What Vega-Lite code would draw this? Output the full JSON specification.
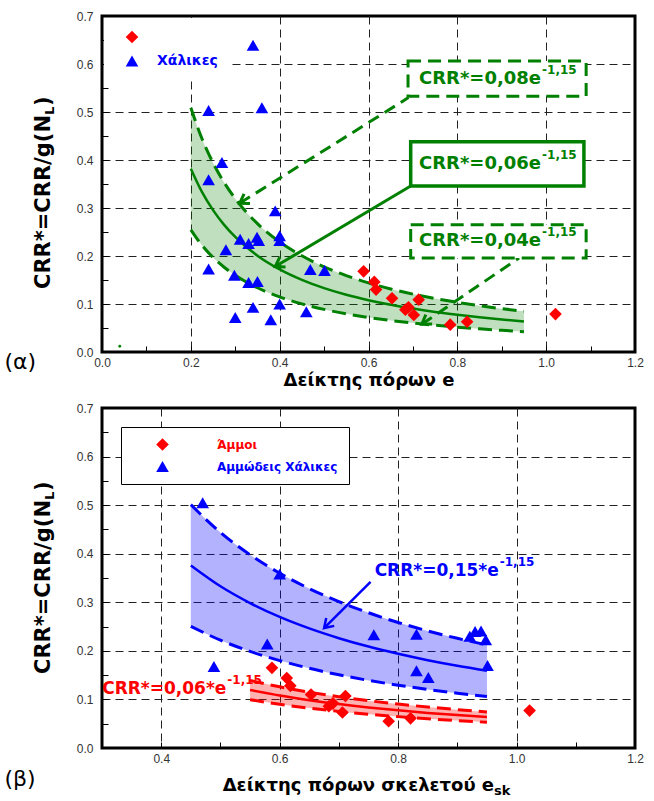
{
"$schema": "https://vega.github.io/schema/vega-lite/v6.json",
"background": "white",
"padding": {"left": 2, "top": 8, "right": 4, "bottom": 2},
"spacing": 9,
"config": {
  "view": {"stroke": "black", "strokeWidth": 3},
  "font": "Liberation Sans",
  "axis": {"domain": false, "tickColor": "black", "tickWidth": 1, "tickSize": -6, "labelFont": "Liberation Sans", "labelFontSize": 12, "labelColor": "#333333", "gridColor": "#222222", "gridDash": [8, 5], "gridWidth": 1, "labelOverlap": false, "labelFlush": false}
},
"datasets": {
  "topBand": [
    {"e": 0.2, "crr": 0.382, "up": 0.509, "lo": 0.2546},
    {"e": 0.225, "crr": 0.3335, "up": 0.4447, "lo": 0.2224},
    {"e": 0.25, "crr": 0.2955, "up": 0.394, "lo": 0.197},
    {"e": 0.275, "crr": 0.2648, "up": 0.3531, "lo": 0.1766},
    {"e": 0.3, "crr": 0.2396, "up": 0.3194, "lo": 0.1597},
    {"e": 0.35, "crr": 0.2006, "up": 0.2675, "lo": 0.1338},
    {"e": 0.4, "crr": 0.1721, "up": 0.2294, "lo": 0.1147},
    {"e": 0.45, "crr": 0.1503, "up": 0.2004, "lo": 0.1002},
    {"e": 0.5, "crr": 0.1331, "up": 0.1775, "lo": 0.0888},
    {"e": 0.55, "crr": 0.1193, "up": 0.1591, "lo": 0.0796},
    {"e": 0.6, "crr": 0.108, "up": 0.144, "lo": 0.072},
    {"e": 0.65, "crr": 0.0985, "up": 0.1313, "lo": 0.0656},
    {"e": 0.7, "crr": 0.0904, "up": 0.1206, "lo": 0.0603},
    {"e": 0.75, "crr": 0.0835, "up": 0.1114, "lo": 0.0557},
    {"e": 0.8, "crr": 0.0776, "up": 0.1034, "lo": 0.0517},
    {"e": 0.85, "crr": 0.0723, "up": 0.0964, "lo": 0.0482},
    {"e": 0.9, "crr": 0.0677, "up": 0.0903, "lo": 0.0452},
    {"e": 0.95, "crr": 0.0636, "up": 0.0849, "lo": 0.0424}
  ],
  "blueBand": [
    {"e": 0.45, "crr": 0.3758, "up": 0.501, "lo": 0.2505},
    {"e": 0.5, "crr": 0.3329, "up": 0.4438, "lo": 0.2219},
    {"e": 0.55, "crr": 0.2984, "up": 0.3978, "lo": 0.1989},
    {"e": 0.6, "crr": 0.2699, "up": 0.3599, "lo": 0.18},
    {"e": 0.65, "crr": 0.2462, "up": 0.3282, "lo": 0.1641},
    {"e": 0.7, "crr": 0.2261, "up": 0.3014, "lo": 0.1507},
    {"e": 0.75, "crr": 0.2088, "up": 0.2784, "lo": 0.1392},
    {"e": 0.8, "crr": 0.1939, "up": 0.2585, "lo": 0.1293},
    {"e": 0.85, "crr": 0.1808, "up": 0.2411, "lo": 0.1206},
    {"e": 0.9, "crr": 0.1693, "up": 0.2258, "lo": 0.1129},
    {"e": 0.95, "crr": 0.1591, "up": 0.2122, "lo": 0.1061}
  ],
  "redBand": [
    {"e": 0.55, "crr": 0.1193, "up": 0.1392, "lo": 0.0995},
    {"e": 0.6, "crr": 0.108, "up": 0.126, "lo": 0.09},
    {"e": 0.65, "crr": 0.0985, "up": 0.1149, "lo": 0.0821},
    {"e": 0.7, "crr": 0.0904, "up": 0.1055, "lo": 0.0754},
    {"e": 0.75, "crr": 0.0835, "up": 0.0974, "lo": 0.0696},
    {"e": 0.8, "crr": 0.0776, "up": 0.0905, "lo": 0.0646},
    {"e": 0.85, "crr": 0.0723, "up": 0.0844, "lo": 0.0603},
    {"e": 0.9, "crr": 0.0677, "up": 0.079, "lo": 0.0564},
    {"e": 0.95, "crr": 0.0636, "up": 0.0743, "lo": 0.053}
  ],
  "topPts": [
    {"e": 0.589, "crr": 0.168, "soil": "Άμμοι"},
    {"e": 0.613, "crr": 0.146, "soil": "Άμμοι"},
    {"e": 0.617, "crr": 0.13, "soil": "Άμμοι"},
    {"e": 0.653, "crr": 0.112, "soil": "Άμμοι"},
    {"e": 0.683, "crr": 0.088, "soil": "Άμμοι"},
    {"e": 0.69, "crr": 0.093, "soil": "Άμμοι"},
    {"e": 0.702, "crr": 0.077, "soil": "Άμμοι"},
    {"e": 0.713, "crr": 0.109, "soil": "Άμμοι"},
    {"e": 0.784, "crr": 0.057, "soil": "Άμμοι"},
    {"e": 0.822, "crr": 0.063, "soil": "Άμμοι"},
    {"e": 1.021, "crr": 0.079, "soil": "Άμμοι"},
    {"e": 0.34, "crr": 0.639, "soil": "Χάλικες"},
    {"e": 0.24, "crr": 0.503, "soil": "Χάλικες"},
    {"e": 0.36, "crr": 0.509, "soil": "Χάλικες"},
    {"e": 0.27, "crr": 0.395, "soil": "Χάλικες"},
    {"e": 0.24, "crr": 0.359, "soil": "Χάλικες"},
    {"e": 0.39, "crr": 0.294, "soil": "Χάλικες"},
    {"e": 0.311, "crr": 0.235, "soil": "Χάλικες"},
    {"e": 0.33, "crr": 0.226, "soil": "Χάλικες"},
    {"e": 0.349, "crr": 0.239, "soil": "Χάλικες"},
    {"e": 0.353, "crr": 0.232, "soil": "Χάλικες"},
    {"e": 0.4, "crr": 0.242, "soil": "Χάλικες"},
    {"e": 0.4, "crr": 0.232, "soil": "Χάλικες"},
    {"e": 0.279, "crr": 0.213, "soil": "Χάλικες"},
    {"e": 0.24, "crr": 0.173, "soil": "Χάλικες"},
    {"e": 0.298, "crr": 0.16, "soil": "Χάλικες"},
    {"e": 0.33, "crr": 0.145, "soil": "Χάλικες"},
    {"e": 0.35, "crr": 0.147, "soil": "Χάλικες"},
    {"e": 0.469, "crr": 0.172, "soil": "Χάλικες"},
    {"e": 0.501, "crr": 0.17, "soil": "Χάλικες"},
    {"e": 0.4, "crr": 0.1, "soil": "Χάλικες"},
    {"e": 0.34, "crr": 0.093, "soil": "Χάλικες"},
    {"e": 0.3, "crr": 0.072, "soil": "Χάλικες"},
    {"e": 0.38, "crr": 0.067, "soil": "Χάλικες"},
    {"e": 0.46, "crr": 0.084, "soil": "Χάλικες"}
  ],
  "botPts": [
    {"e": 0.587, "crr": 0.165, "soil": "Άμμοι"},
    {"e": 0.612, "crr": 0.144, "soil": "Άμμοι"},
    {"e": 0.618, "crr": 0.128, "soil": "Άμμοι"},
    {"e": 0.653, "crr": 0.11, "soil": "Άμμοι"},
    {"e": 0.683, "crr": 0.086, "soil": "Άμμοι"},
    {"e": 0.69, "crr": 0.092, "soil": "Άμμοι"},
    {"e": 0.706, "crr": 0.073, "soil": "Άμμοι"},
    {"e": 0.711, "crr": 0.107, "soil": "Άμμοι"},
    {"e": 0.784, "crr": 0.055, "soil": "Άμμοι"},
    {"e": 0.821, "crr": 0.061, "soil": "Άμμοι"},
    {"e": 1.022, "crr": 0.077, "soil": "Άμμοι"},
    {"e": 0.47, "crr": 0.505, "soil": "Αμμώδεις Χάλικες"},
    {"e": 0.6, "crr": 0.358, "soil": "Αμμώδεις Χάλικες"},
    {"e": 0.579, "crr": 0.214, "soil": "Αμμώδεις Χάλικες"},
    {"e": 0.489, "crr": 0.168, "soil": "Αμμώδεις Χάλικες"},
    {"e": 0.759, "crr": 0.233, "soil": "Αμμώδεις Χάλικες"},
    {"e": 0.831, "crr": 0.234, "soil": "Αμμώδεις Χάλικες"},
    {"e": 0.921, "crr": 0.23, "soil": "Αμμώδεις Χάλικες"},
    {"e": 0.93, "crr": 0.24, "soil": "Αμμώδεις Χάλικες"},
    {"e": 0.94, "crr": 0.241, "soil": "Αμμώδεις Χάλικες"},
    {"e": 0.948, "crr": 0.223, "soil": "Αμμώδεις Χάλικες"},
    {"e": 0.951, "crr": 0.17, "soil": "Αμμώδεις Χάλικες"},
    {"e": 0.831, "crr": 0.159, "soil": "Αμμώδεις Χάλικες"},
    {"e": 0.851, "crr": 0.145, "soil": "Αμμώδεις Χάλικες"}
  ],
  "topLab": [
    {"e": 0.9885, "crr": 0.5695, "t": "CRR*=0,08e", "s": "-1,15"},
    {"e": 0.9885, "crr": 0.392, "t": "CRR*=0,06e", "s": "-1,15"},
    {"e": 0.9885, "crr": 0.2305, "t": "CRR*=0,04e", "s": "-1,15"}
  ],
  "topYT": [{"e": -0.131, "crr": 0.4937, "t": "CRR*=CRR/g(N", "s": "L", "p": ")"}],
  "botYT": [{"e": 0.202, "crr": 0.5106, "t": "CRR*=CRR/g(N", "s": "L", "p": ")"}],
  "botXT": [{"e": 0.962, "crr": -0.0875, "t": "Δείκτης πόρων σκελετού e", "s": "sk"}],
  "blueLab": [{"e": 0.97, "crr": 0.365, "t": "CRR*=0,15*e", "s": "-1,15"}],
  "redLab": [{"e": 0.51, "crr": 0.1225, "t": "CRR*=0,06*e", "s": "-1,15"}]
},
"resolve": {"scale": {"x": "independent", "y": "independent", "color": "independent", "shape": "independent"}, "legend": {"color": "independent", "shape": "independent"}},
"vconcat": [
{
  "width": 533, "height": 336,
  "encoding": {
    "x": {"field": "e", "type": "quantitative", "scale": {"domain": [0, 1.2], "nice": false, "zero": false},
      "axis": {"values": [0, 0.1, 0.2, 0.3, 0.4, 0.5, 0.6, 0.7, 0.8, 0.9, 1, 1.1, 1.2],
        "labelExpr": "round(datum.value*10)%2==0 ? format(datum.value,'.1f') : ''",
        "labelPadding": 11,
        "gridOpacity": {"condition": {"test": "round(datum.value*10)%2==0 && datum.value>0.05 && datum.value<1.15", "value": 1}, "value": 0},
        "title": "Δείκτης πόρων e", "titleFont": "DejaVu Sans", "titleFontSize": 18, "titleFontWeight": "bold", "titleColor": "black", "titlePadding": 3}},
    "y": {"field": "crr", "type": "quantitative", "scale": {"domain": [0, 0.7], "nice": false, "zero": false},
      "axis": {"values": [0, 0.05, 0.1, 0.15, 0.2, 0.25, 0.3, 0.35, 0.4, 0.45, 0.5, 0.55, 0.6, 0.65, 0.7],
        "labelExpr": "round(datum.value*100)%10==0 ? format(datum.value,'.1f') : ''",
        "labelPadding": 15,
        "gridOpacity": {"condition": {"test": "round(datum.value*100)%10==0 && datum.value>0.05 && datum.value<0.65", "value": 1}, "value": 0},
        "title": null}}
  },
  "layer": [
    {"data": {"name": "topBand"}, "mark": {"type": "area", "color": "#008000", "fillOpacity": 0.25, "interpolate": "monotone"},
     "encoding": {"y": {"field": "up", "type": "quantitative", "title": null}, "y2": {"field": "lo"}}},
    {"data": {"name": "topBand"}, "mark": {"type": "line", "color": "#008000", "strokeWidth": 2.5, "interpolate": "monotone"}, "encoding": {}},
    {"data": {"name": "topBand"}, "mark": {"type": "line", "color": "#008000", "strokeWidth": 3, "strokeDash": [14, 7], "interpolate": "monotone"},
     "encoding": {"y": {"field": "up", "type": "quantitative", "title": null}}},
    {"data": {"name": "topBand"}, "mark": {"type": "line", "color": "#008000", "strokeWidth": 3, "strokeDash": [14, 7], "interpolate": "monotone"},
     "encoding": {"y": {"field": "lo", "type": "quantitative", "title": null}}},
    {"data": {"name": "topPts"}, "mark": {"type": "point", "filled": true, "size": 160, "opacity": 1, "strokeWidth": 0},
     "encoding": {
       "shape": {"field": "soil", "type": "nominal", "scale": {"domain": ["Άμμοι", "Χάλικες"], "range": ["diamond", "triangle-up"]},
         "legend": {"title": null, "orient": "none", "legendX": 2, "legendY": 2, "padding": 12, "symbolOffset": 9, "rowPadding": 10, "symbolSize": 160, "symbolStrokeWidth": 0, "labelOffset": 18, "labelFont": "DejaVu Sans", "labelFontWeight": "bold", "labelFontSize": 14, "labelColor": "#0000ff", "fillColor": "white", "labelExpr": "datum.label == 'Άμμοι' ? '' : datum.label"}},
       "color": {"field": "soil", "type": "nominal", "scale": {"domain": ["Άμμοι", "Χάλικες"], "range": ["#ff0000", "#0000ff"]},
         "legend": {"title": null, "orient": "none", "legendX": 2, "legendY": 2, "padding": 12, "symbolOffset": 9, "rowPadding": 10, "symbolSize": 160, "symbolStrokeWidth": 0, "labelOffset": 18, "labelFont": "DejaVu Sans", "labelFontWeight": "bold", "labelFontSize": 14, "labelColor": "#0000ff", "fillColor": "white", "labelExpr": "datum.label == 'Άμμοι' ? '' : datum.label"}}
     }},
    {"data": {"values": [{"e": 0.04, "crr": 0.012}]}, "mark": {"type": "point", "filled": true, "color": "#008000", "size": 8, "opacity": 1}},
    {"data": {"values": [{"a": 1, "e": 0.69, "crr": 0.53}, {"a": 1, "e": 0.31, "crr": 0.31}, {"a": 3, "e": 0.939, "crr": 0.196}, {"a": 3, "e": 0.72, "crr": 0.058}]},
     "mark": {"type": "line", "color": "#008000", "strokeWidth": 3, "strokeDash": [12, 7]},
     "encoding": {"detail": {"field": "a", "type": "nominal"}}},
    {"data": {"values": [{"e": 0.695, "crr": 0.346}, {"e": 0.39, "crr": 0.178}]},
     "mark": {"type": "line", "color": "#008000", "strokeWidth": 3}, "encoding": {}},
    {"data": {"values": [{"e": 0.31, "crr": 0.31, "dir": 148}, {"e": 0.39, "crr": 0.178, "dir": 149}, {"e": 0.72, "crr": 0.058, "dir": 146}]},
     "mark": {"type": "point", "shape": "M-1,-0.65L0,0L-1,0.65", "filled": false, "color": "#008000", "strokeWidth": 3, "size": 300, "opacity": 1},
     "encoding": {"angle": {"field": "dir", "type": "quantitative", "scale": null}}},
    {"data": {"values": [{"e": 0.689, "e2": 1.09, "crr": 0.533, "crr2": 0.606}, {"e": 0.695, "e2": 1.09, "crr": 0.196, "crr2": 0.265}]},
     "mark": {"type": "rect", "fill": "white", "stroke": "#008000", "strokeWidth": 3, "strokeDash": [13, 7]},
     "encoding": {"x2": {"field": "e2"}, "y2": {"field": "crr2"}}},
    {"data": {"values": [{"e": 0.695, "e2": 1.085, "crr": 0.346, "crr2": 0.438}]},
     "mark": {"type": "rect", "fill": "white", "stroke": "#008000", "strokeWidth": 3.5},
     "encoding": {"x2": {"field": "e2"}, "y2": {"field": "crr2"}}},
    {"data": {"name": "topLab"}, "mark": {"type": "text", "align": "right", "baseline": "middle", "font": "DejaVu Sans", "fontWeight": "bold", "fontSize": 18, "color": "#008000"},
     "encoding": {"text": {"field": "t", "type": "nominal"}}},
    {"data": {"name": "topLab"}, "mark": {"type": "text", "align": "left", "baseline": "middle", "font": "DejaVu Sans", "fontWeight": "bold", "fontSize": 12, "dy": -9, "dx": 1, "color": "#008000"},
     "encoding": {"text": {"field": "s", "type": "nominal"}}},
    {"data": {"name": "topYT"}, "mark": {"type": "text", "align": "right", "baseline": "middle", "angle": 270, "font": "DejaVu Sans", "fontWeight": "bold", "fontSize": 21, "color": "black"},
     "encoding": {"text": {"field": "t", "type": "nominal"}}},
    {"data": {"name": "topYT"}, "mark": {"type": "text", "align": "left", "baseline": "middle", "angle": 270, "font": "DejaVu Sans", "fontWeight": "bold", "fontSize": 13, "dy": 6, "color": "black"},
     "encoding": {"text": {"field": "s", "type": "nominal"}}},
    {"data": {"name": "topYT"}, "mark": {"type": "text", "align": "left", "baseline": "middle", "angle": 270, "font": "DejaVu Sans", "fontWeight": "bold", "fontSize": 21, "dx": 9, "color": "black"},
     "encoding": {"text": {"field": "p", "type": "nominal"}}},
    {"data": {"values": [{"e": -0.184, "crr": -0.02, "t": "(α)"}]},
     "mark": {"type": "text", "align": "center", "baseline": "middle", "font": "DejaVu Sans", "fontSize": 22, "color": "black"},
     "encoding": {"text": {"field": "t", "type": "nominal"}}}
  ]
},
{
  "width": 533, "height": 340,
  "encoding": {
    "x": {"field": "e", "type": "quantitative", "scale": {"domain": [0.3, 1.2], "nice": false, "zero": false},
      "axis": {"values": [0.3, 0.4, 0.5, 0.6, 0.7, 0.8, 0.9, 1, 1.1, 1.2],
        "labelExpr": "round(datum.value*10)%2==0 ? format(datum.value,'.1f') : ''",
        "labelPadding": 11,
        "gridOpacity": {"condition": {"test": "round(datum.value*10)%2==0 && datum.value>0.35 && datum.value<1.15", "value": 1}, "value": 0},
        "title": null}},
    "y": {"field": "crr", "type": "quantitative", "scale": {"domain": [0, 0.7], "nice": false, "zero": false},
      "axis": {"values": [0, 0.05, 0.1, 0.15, 0.2, 0.25, 0.3, 0.35, 0.4, 0.45, 0.5, 0.55, 0.6, 0.65, 0.7],
        "labelExpr": "round(datum.value*100)%10==0 ? format(datum.value,'.1f') : ''",
        "labelPadding": 15,
        "gridOpacity": {"condition": {"test": "round(datum.value*100)%10==0 && datum.value>0.05 && datum.value<0.65", "value": 1}, "value": 0},
        "title": null}}
  },
  "layer": [
    {"data": {"name": "blueBand"}, "mark": {"type": "area", "color": "#0000ff", "fillOpacity": 0.3, "interpolate": "monotone"},
     "encoding": {"y": {"field": "up", "type": "quantitative", "title": null}, "y2": {"field": "lo"}}},
    {"data": {"name": "blueBand"}, "mark": {"type": "line", "color": "#0000ff", "strokeWidth": 2.5, "interpolate": "monotone"}, "encoding": {}},
    {"data": {"name": "blueBand"}, "mark": {"type": "line", "color": "#0000ff", "strokeWidth": 3, "strokeDash": [14, 7], "interpolate": "monotone"},
     "encoding": {"y": {"field": "up", "type": "quantitative", "title": null}}},
    {"data": {"name": "blueBand"}, "mark": {"type": "line", "color": "#0000ff", "strokeWidth": 3, "strokeDash": [14, 7], "interpolate": "monotone"},
     "encoding": {"y": {"field": "lo", "type": "quantitative", "title": null}}},
    {"data": {"name": "redBand"}, "mark": {"type": "area", "color": "#ff0000", "fillOpacity": 0.3, "interpolate": "monotone"},
     "encoding": {"y": {"field": "up", "type": "quantitative", "title": null}, "y2": {"field": "lo"}}},
    {"data": {"name": "redBand"}, "mark": {"type": "line", "color": "#ff0000", "strokeWidth": 2.5, "interpolate": "monotone"}, "encoding": {}},
    {"data": {"name": "redBand"}, "mark": {"type": "line", "color": "#ff0000", "strokeWidth": 3, "strokeDash": [14, 7], "interpolate": "monotone"},
     "encoding": {"y": {"field": "up", "type": "quantitative", "title": null}}},
    {"data": {"name": "redBand"}, "mark": {"type": "line", "color": "#ff0000", "strokeWidth": 3, "strokeDash": [14, 7], "interpolate": "monotone"},
     "encoding": {"y": {"field": "lo", "type": "quantitative", "title": null}}},
    {"data": {"name": "botPts"}, "mark": {"type": "point", "filled": true, "size": 160, "opacity": 1, "strokeWidth": 0},
     "encoding": {
       "shape": {"field": "soil", "type": "nominal", "scale": {"domain": ["Άμμοι", "Αμμώδεις Χάλικες"], "range": ["diamond", "triangle-up"]},
         "legend": {"title": null, "orient": "none", "legendX": 19, "legendY": 19, "padding": 11, "symbolOffset": 24, "rowPadding": 9, "symbolSize": 160, "symbolStrokeWidth": 0, "labelOffset": 48, "labelFont": "DejaVu Sans", "labelFontWeight": "bold", "labelFontSize": 12, "fillColor": "white", "strokeColor": "black",
           "labelColor": {"expr": "datum.label === 'Άμμοι' ? '#ff0000' : '#0000ff'"},
           "encode": {"legend": {"strokeWidth": {"value": 2.5}}}}},
       "color": {"field": "soil", "type": "nominal", "scale": {"domain": ["Άμμοι", "Αμμώδεις Χάλικες"], "range": ["#ff0000", "#0000ff"]},
         "legend": {"title": null, "orient": "none", "legendX": 19, "legendY": 19, "padding": 11, "symbolOffset": 24, "rowPadding": 9, "symbolSize": 160, "symbolStrokeWidth": 0, "labelOffset": 48, "labelFont": "DejaVu Sans", "labelFontWeight": "bold", "labelFontSize": 12, "fillColor": "white", "strokeColor": "black",
           "labelColor": {"expr": "datum.label === 'Άμμοι' ? '#ff0000' : '#0000ff'"},
           "encode": {"legend": {"strokeWidth": {"value": 2.5}}}}}
     }},
    {"data": {"values": [{"e": 0.7535, "crr": 0.342}, {"e": 0.675, "crr": 0.247}]},
     "mark": {"type": "line", "color": "#0000ff", "strokeWidth": 2.5}, "encoding": {}},
    {"data": {"values": [{"e": 0.675, "crr": 0.247, "dir": 135}]},
     "mark": {"type": "point", "shape": "M-1,-0.65L0,0L-1,0.65", "filled": false, "color": "#0000ff", "strokeWidth": 2.5, "size": 300, "opacity": 1},
     "encoding": {"angle": {"field": "dir", "type": "quantitative", "scale": null}}},
    {"data": {"name": "blueLab"}, "mark": {"type": "text", "align": "right", "baseline": "middle", "font": "DejaVu Sans", "fontWeight": "bold", "fontSize": 17, "color": "#0000ff"},
     "encoding": {"text": {"field": "t", "type": "nominal"}}},
    {"data": {"name": "blueLab"}, "mark": {"type": "text", "align": "left", "baseline": "middle", "font": "DejaVu Sans", "fontWeight": "bold", "fontSize": 12, "dy": -9, "dx": 1, "color": "#0000ff"},
     "encoding": {"text": {"field": "s", "type": "nominal"}}},
    {"data": {"name": "redLab"}, "mark": {"type": "text", "align": "right", "baseline": "middle", "font": "DejaVu Sans", "fontWeight": "bold", "fontSize": 17, "color": "#ff0000"},
     "encoding": {"text": {"field": "t", "type": "nominal"}}},
    {"data": {"name": "redLab"}, "mark": {"type": "text", "align": "left", "baseline": "middle", "font": "DejaVu Sans", "fontWeight": "bold", "fontSize": 12, "dy": -9, "dx": 1, "color": "#ff0000"},
     "encoding": {"text": {"field": "s", "type": "nominal"}}},
    {"data": {"name": "botYT"}, "mark": {"type": "text", "align": "right", "baseline": "middle", "angle": 270, "font": "DejaVu Sans", "fontWeight": "bold", "fontSize": 21, "color": "black"},
     "encoding": {"text": {"field": "t", "type": "nominal"}}},
    {"data": {"name": "botYT"}, "mark": {"type": "text", "align": "left", "baseline": "middle", "angle": 270, "font": "DejaVu Sans", "fontWeight": "bold", "fontSize": 13, "dy": 6, "color": "black"},
     "encoding": {"text": {"field": "s", "type": "nominal"}}},
    {"data": {"name": "botYT"}, "mark": {"type": "text", "align": "left", "baseline": "middle", "angle": 270, "font": "DejaVu Sans", "fontWeight": "bold", "fontSize": 21, "dx": 9, "color": "black"},
     "encoding": {"text": {"field": "p", "type": "nominal"}}},
    {"data": {"name": "botXT"}, "mark": {"type": "text", "align": "right", "baseline": "alphabetic", "font": "DejaVu Sans", "fontWeight": "bold", "fontSize": 18, "color": "black"},
     "encoding": {"text": {"field": "t", "type": "nominal"}}},
    {"data": {"name": "botXT"}, "mark": {"type": "text", "align": "left", "baseline": "alphabetic", "font": "DejaVu Sans", "fontWeight": "bold", "fontSize": 13, "dy": 4, "color": "black"},
     "encoding": {"text": {"field": "s", "type": "nominal"}}},
    {"data": {"values": [{"e": 0.1617, "crr": -0.064, "t": "(β)"}]},
     "mark": {"type": "text", "align": "center", "baseline": "middle", "font": "DejaVu Sans", "fontSize": 22, "color": "black"},
     "encoding": {"text": {"field": "t", "type": "nominal"}}}
  ]
}
]
}
